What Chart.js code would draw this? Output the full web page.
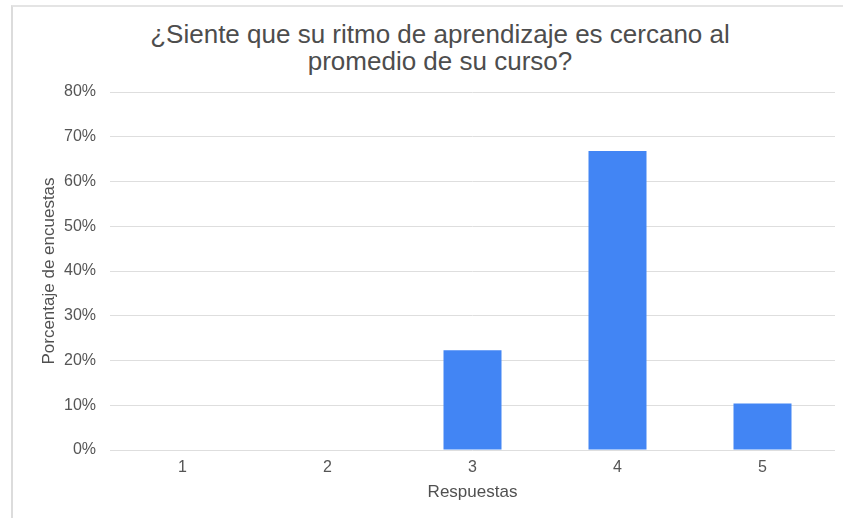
<!DOCTYPE html>
<html lang="es">
<head>
<meta charset="UTF-8">
<title>Ritmo de aprendizaje</title>
<script src="https://cdn.jsdelivr.net/npm/chart.js"></script>
<style>
    body { margin: 0; background: #fff; font-family: "Liberation Sans", Arial, sans-serif; }
    .frame {
        position: absolute; left: 11px; top: 5px; width: 900px; height: 600px;
        border-left: 2px solid #dcdcdc; border-top: 2px solid #e4e4e4;
    }
    .chart-title {
        position: absolute; left: 90px; width: 700px; top: 21px;
        text-align: center; font-size: 26px; line-height: 27px; color: #4d4d4d;
    }
    .chart-box { position: absolute; left: 0; top: 0; width: 843px; height: 518px; }
</style>
</head>
<body>
<div class="frame"></div>
<div class="chart-title">¿Siente que su ritmo de aprendizaje es cercano al<br>promedio de su curso?</div>
<div class="chart-box"><canvas id="barChart"></canvas></div>

<script>
    const categories = ["1", "2", "3", "4", "5"];
    const percentages = [0, 0, 22.3, 66.8, 10.4];
    const yTicks = [0, 10, 20, 30, 40, 50, 60, 70, 80];

    const ctx = document.getElementById('barChart').getContext('2d');
    new Chart(ctx, {
        type: 'bar',
        data: {
            labels: categories,
            datasets: [{
                label: 'Porcentaje',
                data: percentages,
                backgroundColor: '#4285f4',
                categoryPercentage: 1,
                barPercentage: 0.4
            }]
        },
        options: {
            responsive: true,
            maintainAspectRatio: false,
            animation: false,
            layout: { padding: { top: 92, left: 39, right: 8, bottom: 11 } },
            plugins: { legend: { display: false }, tooltip: { enabled: false } },
            scales: {
                x: {
                    grid: { display: false },
                    border: { display: false },
                    ticks: { color: '#555', font: { size: 16, family: 'Liberation Sans' }, padding: 0 },
                    title: { display: true, text: 'Respuestas', color: '#505050',
                             font: { size: 17, family: 'Liberation Sans' }, padding: { top: 18 } },
                    afterFit: s => { s.height = 57; }
                },
                y: {
                    min: 0, max: 80,
                    afterBuildTicks: s => { s.ticks = yTicks.map(v => ({ value: v })); },
                    grid: { color: '#dedede', drawTicks: false },
                    border: { display: false },
                    ticks: { color: '#555', font: { size: 16, family: 'Liberation Sans' }, padding: 14,
                             callback: v => v + '%' },
                    title: { display: true, text: 'Porcentaje de encuestas', color: '#505050',
                             font: { size: 17, family: 'Liberation Sans' }, padding: 0 },
                    afterFit: s => { s.width = 71; }
                }
            }
        }
    });
</script>
</body>
</html>
